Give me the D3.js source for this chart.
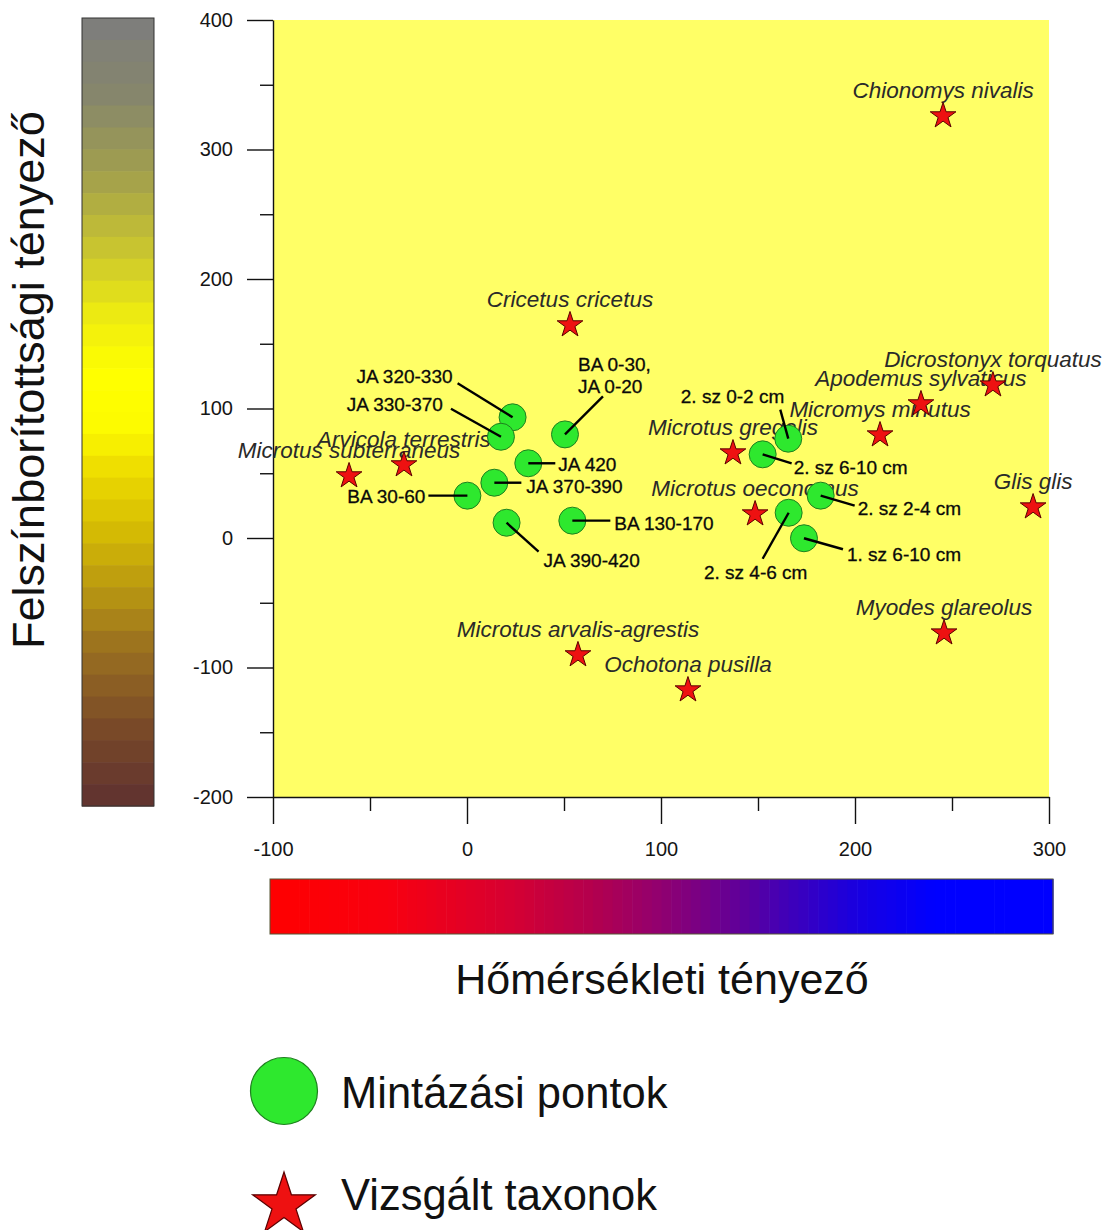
<!DOCTYPE html>
<html>
<head>
<meta charset="utf-8">
<script src="https://cdn.jsdelivr.net/npm/d3@7"></script>
<style>
  html, body { margin: 0; padding: 0; background: #fff; }
  svg { display: block; font-family: "Liberation Sans", Arial, sans-serif; }
</style>
</head>
<body>
<svg id="chart" width="1110" height="1230"></svg>
<script>
// Studied taxa: temperature factor (x) and surface cover factor (y)
const taxonNames = [
  "Chionomys nivalis", "Cricetus cricetus", "Dicrostonyx torquatus",
  "Apodemus sylvaticus", "Micromys minutus", "Microtus gregalis",
  "Microtus oeconomus", "Glis glis", "Myodes glareolus",
  "Microtus arvalis-agrestis", "Ochotona pusilla",
  "Microtus subterraneus", "Arvicola terrestris"
];
const taxonX = [245.4, 53.1, 271.1, 234.0, 212.9, 137.1, 148.5, 291.8, 245.9, 57.2, 113.9, -60.8, -32.5];
const taxonY = [325.9, 164.5, 118.1, 103.5, 79.5, 65.6, 18.5, 23.9, -73.4, -90.3, -117.4, 47.9, 56.4];

// Sampling points (layers)
const sampleNames = [
  "JA 320-330", "JA 330-370", "BA 0-30,\nJA 0-20", "JA 420", "JA 370-390",
  "BA 30-60", "JA 390-420", "BA 130-170",
  "2. sz 0-2 cm", "2. sz 6-10 cm", "2. sz 2-4 cm", "2. sz 4-6 cm", "1. sz 6-10 cm"
];
const sampleX = [23.5, 17.5, 50.5, 31.6, 14.1, 0.2, 20.4, 54.3, 165.6, 152.4, 182.3, 165.8, 173.7];
const sampleY = [93.2, 78.2, 80.0, 57.7, 42.7, 32.7, 11.8, 13.4, 76.7, 64.6, 32.7, 19.5, -0.2];

// Axis ticks
const xMajorTicks = [-100, 0, 100, 200, 300];
const xMinorTicks = [-50, 50, 150, 250];
const yMajorTicks = [-200, -100, 0, 100, 200, 300, 400];
const yMinorTicks = [-150, -50, 50, 150, 250, 350];

// Texts
const xTitle = "Hőmérsékleti tényező";
const yTitle = "Felszínborítottsági tényező";
const legendLabels = ["Mintázási pontok", "Vizsgált taxonok"];

// Colour ramps of the two factor bars (0 = start, 1 = end)
const coverStops = [0, 0.1, 0.2, 0.3, 0.38, 0.45, 0.52, 0.58, 0.65, 0.72, 0.8, 0.9, 1];
const coverColors = ["#7d7d7d", "#86866c", "#a3a04c", "#cbc72e", "#eeec10", "#ffff00", "#fdfb00",
                     "#ecd900", "#d5bb04", "#bb9a10", "#9a7020", "#7a4a28", "#5e3030"];
const tempStops = [0, 0.15, 0.3, 0.42, 0.5, 0.58, 0.66, 0.75, 0.85, 1];
const tempColors = ["#ff0000", "#f80010", "#d80030", "#b00050", "#900070", "#6a0090",
                    "#4000b8", "#1800e0", "#0000ff", "#0000ff"];

// Label placement around the sampling points: leader-line end and text anchor, in px from the point
const sampleLabelLayout = [
  { lx: -55, ly: -34, tx: -60, ty: -34, anchor: "end" },
  { lx: -50, ly: -28, tx: -58, ty: -26, anchor: "end" },
  { lx: 38, ly: -38, tx: 13, ty: -63, anchor: "start" },
  { lx: 27, ly: 0, tx: 30, ty: 8, anchor: "start" },
  { lx: 27, ly: 0, tx: 32, ty: 10, anchor: "start" },
  { lx: -39, ly: 0, tx: -42, ty: 7, anchor: "end" },
  { lx: 32, ly: 29, tx: 37, ty: 44, anchor: "start" },
  { lx: 38, ly: 0, tx: 42, ty: 9, anchor: "start" },
  { lx: -8, ly: -29, tx: -4, ty: -36, anchor: "end" },
  { lx: 29, ly: 9, tx: 31, ty: 20, anchor: "start" },
  { lx: 34, ly: 10, tx: 37, ty: 19, anchor: "start" },
  { lx: -26, ly: 46, tx: -33, ty: 66, anchor: "middle" },
  { lx: 39, ly: 11, tx: 43, ty: 23, anchor: "start" }
];

const svg = d3.select("#chart");

const x = d3.scaleLinear().domain([-100, 300]).range([273, 1049]);
const y = d3.scaleLinear().domain([-200, 400]).range([797, 20]);

// Plot background
svg.append("rect")
  .attr("x", x(-100)).attr("y", y(400))
  .attr("width", x(300) - x(-100)).attr("height", y(-200) - y(400))
  .attr("fill", "#ffff66");

// Axes
const axisStyle = g => {
  g.selectAll("path, line").attr("stroke", "#111").attr("stroke-width", 1.4);
  g.selectAll("text").attr("fill", "#151515").attr("font-size", 20)
    .attr("font-family", "'Liberation Sans', Arial, sans-serif");
};
svg.append("g").attr("transform", `translate(0,${y(-200)})`)
  .call(d3.axisBottom(x).tickValues(xMinorTicks).tickSize(14).tickFormat(""))
  .call(g => g.select(".domain").remove()).call(axisStyle);
svg.append("g").attr("transform", `translate(${x(-100)},0)`)
  .call(d3.axisLeft(y).tickValues(yMinorTicks).tickSize(13).tickFormat(""))
  .call(g => g.select(".domain").remove()).call(axisStyle);
svg.append("g").attr("transform", `translate(0,${y(-200)})`)
  .call(d3.axisBottom(x).tickValues(xMajorTicks).tickSize(27).tickPadding(18)
    .tickSizeOuter(0).tickFormat(d => String(d)))
  .call(axisStyle);
svg.append("g").attr("transform", `translate(${x(-100)},0)`)
  .call(d3.axisLeft(y).tickValues(yMajorTicks).tickSize(26).tickPadding(14)
    .tickSizeOuter(0).tickFormat(d => String(d)))
  .call(axisStyle);

// Taxon names
const taxa = taxonNames.map((n, i) => ({ name: n, x: taxonX[i], y: taxonY[i] }));
svg.append("g").selectAll("text").data(taxa).join("text")
  .attr("x", d => x(d.x)).attr("y", d => y(d.y) - 18)
  .attr("text-anchor", "middle")
  .attr("font-style", "italic").attr("font-size", 22.5)
  .attr("fill", "#2a2a2a")
  .text(d => d.name);

// Sampling points
const samples = sampleNames.map((n, i) => ({ name: n, x: sampleX[i], y: sampleY[i], lay: sampleLabelLayout[i] }));
svg.append("g").selectAll("circle").data(samples).join("circle")
  .attr("cx", d => x(d.x)).attr("cy", d => y(d.y)).attr("r", 13.5)
  .attr("fill", "#2ee82e").attr("stroke", "#1f7f1f").attr("stroke-width", 1);

// Taxa stars
const star = d3.symbol().type(d3.symbolStar);
svg.append("g").selectAll("path").data(taxa).join("path")
  .attr("transform", d => `translate(${x(d.x)},${y(d.y)})`)
  .attr("d", star.size(205)())
  .attr("fill", "#ee1111").attr("stroke", "#5a0000").attr("stroke-width", 1);

// Leader lines and sample labels
svg.append("g").selectAll("line").data(samples).join("line")
  .attr("x1", d => x(d.x)).attr("y1", d => y(d.y))
  .attr("x2", d => x(d.x) + d.lay.lx).attr("y2", d => y(d.y) + d.lay.ly)
  .attr("stroke", "#000").attr("stroke-width", 2.4);

svg.append("g").selectAll("text").data(samples).join("text")
  .attr("text-anchor", d => d.lay.anchor)
  .attr("font-size", 19).attr("fill", "#0a0a0a")
  .attr("stroke", "#0a0a0a").attr("stroke-width", 0.3)
  .each(function(d) {
    const lines = d.name.split("\n");
    const t = d3.select(this);
    lines.forEach((s, k) => {
      t.append("tspan")
        .attr("x", x(d.x) + d.lay.tx)
        .attr("y", y(d.y) + d.lay.ty + k * 22)
        .text(s);
    });
  });

// Cover factor bar (vertical)
const coverScale = d3.scaleLinear().domain(coverStops).range(coverColors).interpolate(d3.interpolateRgb);
const coverBar = { x: 82, y: 18, w: 72, h: 788, n: 36 };
const cb = svg.append("g");
d3.range(coverBar.n).forEach(i => {
  cb.append("rect")
    .attr("x", coverBar.x)
    .attr("y", coverBar.y + i * coverBar.h / coverBar.n)
    .attr("width", coverBar.w)
    .attr("height", coverBar.h / coverBar.n + 0.6)
    .attr("fill", coverScale((i + 0.5) / coverBar.n));
});
cb.append("rect").attr("x", coverBar.x).attr("y", coverBar.y)
  .attr("width", coverBar.w).attr("height", coverBar.h)
  .attr("fill", "none").attr("stroke", "#333").attr("stroke-width", 1);

// Temperature factor bar (horizontal)
const tempScale = d3.scaleLinear().domain(tempStops).range(tempColors).interpolate(d3.interpolateRgb);
const tempBar = { x: 270, y: 879, w: 783, h: 55, n: 80 };
const tb = svg.append("g");
d3.range(tempBar.n).forEach(i => {
  tb.append("rect")
    .attr("x", tempBar.x + i * tempBar.w / tempBar.n)
    .attr("y", tempBar.y)
    .attr("width", tempBar.w / tempBar.n + 0.6)
    .attr("height", tempBar.h)
    .attr("fill", tempScale((i + 0.5) / tempBar.n));
});
tb.append("rect").attr("x", tempBar.x).attr("y", tempBar.y)
  .attr("width", tempBar.w).attr("height", tempBar.h)
  .attr("fill", "none").attr("stroke", "#553").attr("stroke-width", 1);

// Axis titles
svg.append("text")
  .attr("x", 662).attr("y", 994)
  .attr("text-anchor", "middle").attr("font-size", 43).attr("fill", "#111")
  .text(xTitle);
svg.append("text")
  .attr("transform", "translate(44,380) rotate(-90)")
  .attr("text-anchor", "middle").attr("font-size", 45).attr("fill", "#111")
  .text(yTitle);

// Legend
const legend = svg.append("g");
legend.append("circle").attr("cx", 284).attr("cy", 1091).attr("r", 33.5)
  .attr("fill", "#2ee82e").attr("stroke", "#1f7f1f").attr("stroke-width", 1.2);
legend.append("path")
  .attr("transform", "translate(284,1205)")
  .attr("d", d3.symbol().type(d3.symbolStar).size(1222)())
  .attr("fill", "#ee1111").attr("stroke", "#5a0000").attr("stroke-width", 1.2);
legend.selectAll("text").data(legendLabels).join("text")
  .attr("x", 341).attr("y", (d, i) => [1108, 1210][i])
  .attr("font-size", 43.5).attr("fill", "#111")
  .text(d => d);
</script>
</body>
</html>
